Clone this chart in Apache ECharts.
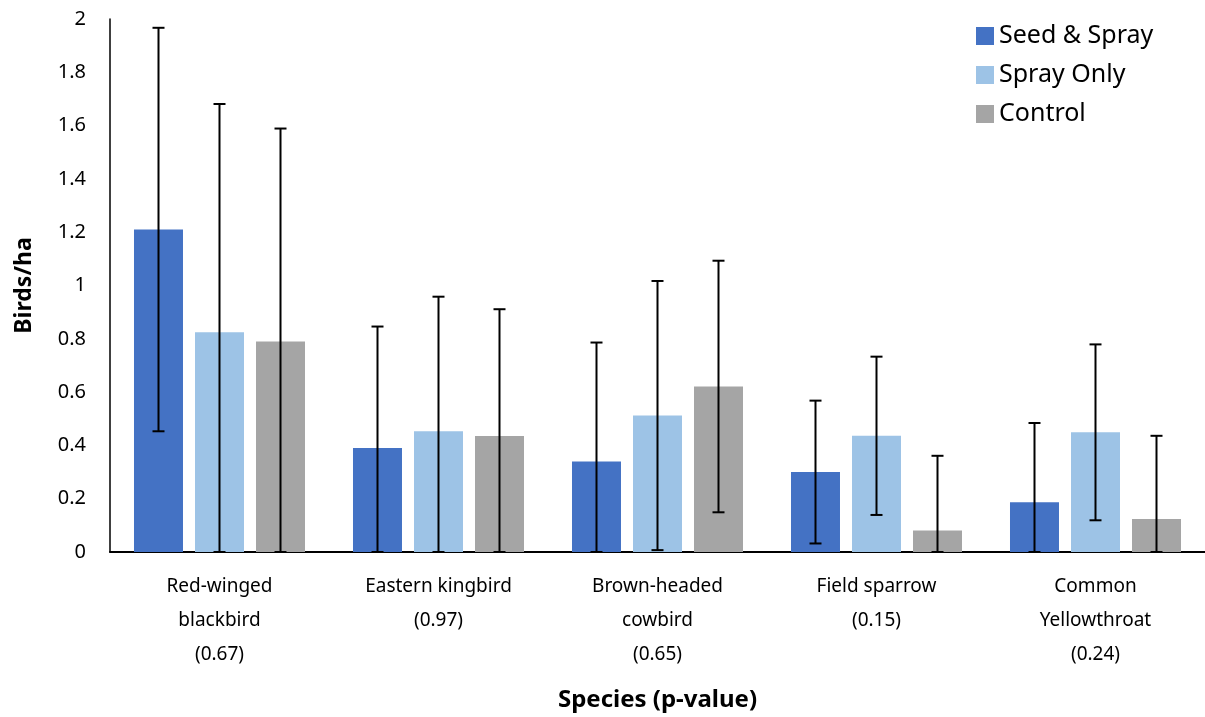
<!DOCTYPE html>
<html>
<head>
<meta charset="utf-8">
<script src="https://cdn.jsdelivr.net/npm/echarts@6/dist/echarts.min.js"></script>
<style>
    html, body { margin: 0; padding: 0; background: #fff; }
    #chart { width: 1205px; height: 717px; }
</style>
</head>
<body>
<div id="chart"></div>
<script>
// species with p-values
const categories = [
    "Red-winged\nblackbird\n(0.67)",
    "Eastern kingbird\n(0.97)",
    "Brown-headed\ncowbird\n(0.65)",
    "Field sparrow\n(0.15)",
    "Common\nYellowthroat\n(0.24)"
];
const seriesNames = ["Seed & Spray", "Spray Only", "Control"];

// birds/ha means
const seedSpray = [1.21, 0.39, 0.34, 0.3, 0.187];
const sprayOnly = [0.825, 0.453, 0.512, 0.436, 0.449];
const control = [0.79, 0.435, 0.621, 0.081, 0.124];

// error bar half-widths
const seedSprayErr = [0.757, 0.456, 0.446, 0.268, 0.297];
const sprayOnlyErr = [0.856, 0.505, 0.505, 0.297, 0.33];
const controlErr = [0.799, 0.476, 0.472, 0.28, 0.312];

const yTicks = [0, 0.2, 0.4, 0.6, 0.8, 1, 1.2, 1.4, 1.6, 1.8, 2];

const colors = ["#4472C4", "#9DC3E6", "#A5A5A5"];
const barWidth = 49;
const barGapPx = 12;
const font = "Noto Sans";

const means = [seedSpray, sprayOnly, control];
const errs = [seedSprayErr, sprayOnlyErr, controlErr];

const errorSeries = (idx) => {
    const offset = (idx - 1) * (barWidth + barGapPx);
    return {
        type: "custom",
        name: seriesNames[idx] + " err",
        z: 10,
        data: means[idx].map((m, i) => [i, Math.max(0, m - errs[idx][i]), m + errs[idx][i]]),
        renderItem: (params, api) => {
            const lo = api.coord([api.value(0), api.value(1)]);
            const hi = api.coord([api.value(0), api.value(2)]);
            const x = lo[0] + offset;
            const cap = 6;
            const style = { stroke: "#000", lineWidth: 2 };
            return {
                type: "group",
                children: [
                    { type: "line", shape: { x1: x, y1: hi[1], x2: x, y2: lo[1] }, style },
                    { type: "line", shape: { x1: x - cap, y1: hi[1], x2: x + cap, y2: hi[1] }, style },
                    { type: "line", shape: { x1: x - cap, y1: lo[1], x2: x + cap, y2: lo[1] }, style }
                ]
            };
        }
    };
};

const chart = echarts.init(document.getElementById("chart"));

const option = {
    animation: false,
    textStyle: { fontFamily: font },
    grid: { left: 110, right: -7, top: 19, bottom: 160, containLabel: false },
    legend: {
        data: seriesNames,
        orient: "vertical",
        left: 976,
        top: 23,
        padding: 0,
        itemWidth: 18,
        itemHeight: 18,
        itemGap: 13,
        icon: "rect",
        textStyle: { fontFamily: font, fontSize: 25, color: "#000", lineHeight: 26 }
    },
    xAxis: {
        type: "category",
        data: categories,
        name: "Species (p-value)",
        nameLocation: "middle",
        nameGap: 136,
        nameTextStyle: { fontFamily: font, fontSize: 24, fontWeight: "bold", color: "#000" },
        axisLine: { lineStyle: { color: "#000", width: 2 } },
        axisTick: { show: false },
        axisLabel: { fontFamily: font, fontSize: 19, color: "#000", lineHeight: 34, margin: 18, interval: 0 }
    },
    yAxis: {
        type: "value",
        min: 0,
        max: 2,
        interval: 0.2,
        name: "Birds/ha",
        nameLocation: "middle",
        nameGap: 74,
        nameTextStyle: { fontFamily: font, fontSize: 23, fontWeight: "bold", color: "#000" },
        axisLine: { show: true, lineStyle: { color: "#000", width: 1.5 } },
        axisTick: { show: false },
        splitLine: { show: false },
        axisLabel: {
            fontFamily: font,
            fontSize: 20,
            color: "#000",
            margin: 24,
            formatter: v => {
                const t = yTicks.find(k => Math.abs(k - v) < 1e-9);
                return t === undefined ? "" : String(t);
            }
        }
    },
    series: [
        ...seriesNames.map((name, idx) => ({
            type: "bar",
            name,
            data: means[idx],
            barWidth,
            barGap: (barGapPx / barWidth * 100).toFixed(1) + "%",
            itemStyle: { color: colors[idx] }
        })),
        errorSeries(0),
        errorSeries(1),
        errorSeries(2)
    ]
};

chart.setOption(option);
</script>
</body>
</html>
